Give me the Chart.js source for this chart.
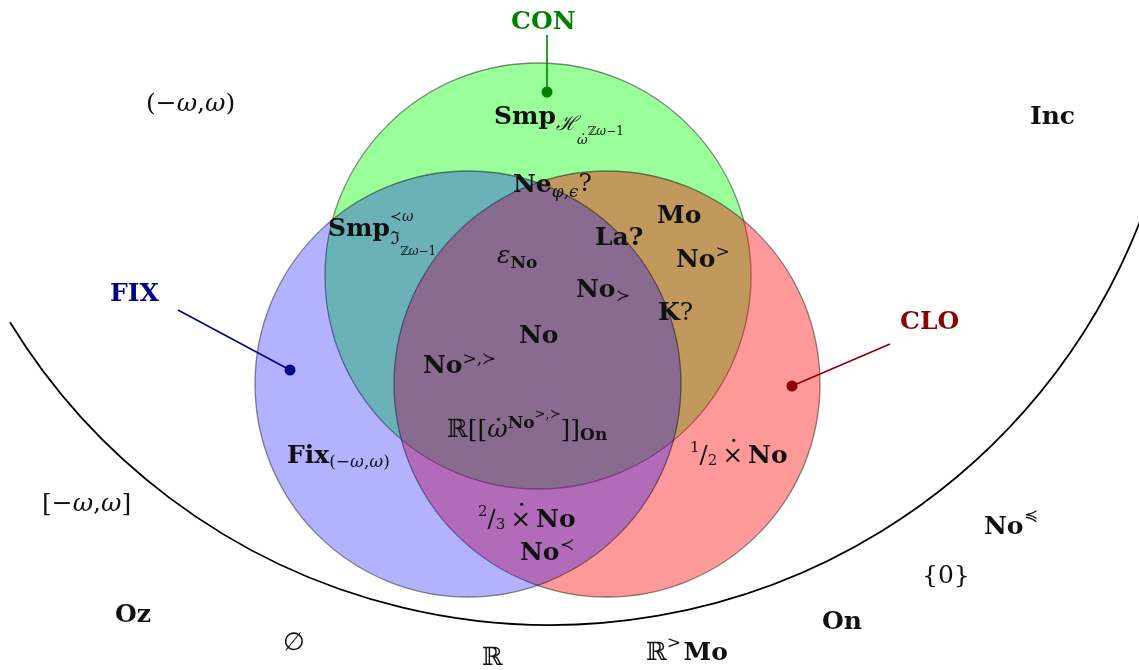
<!DOCTYPE html>
<html><head><meta charset="utf-8">
<script src="https://cdn.jsdelivr.net/npm/chart.js@4.4.1/dist/chart.umd.min.js"></script>
<style>html,body{margin:0;padding:0;background:#fff;overflow:hidden}#wrap{width:1139px;height:670px}</style>
</head><body><div id="wrap"><canvas id="c" width="1139" height="670"></canvas></div>
<script>
// ---- data ----
const setNames = ['CON', 'CLO', 'FIX'];
const circleX = [538, 607, 468];
const circleY = [276, 384, 384];
const circleR = [213, 213, 213];
const circleFill = ['rgba(0,255,0,0.4)', 'rgba(255,0,0,0.4)', 'rgba(0,0,255,0.3)'];

const pointerFromX = [547, 890, 178];
const pointerFromY = [35, 344, 310];
const pointerToX = [547, 792, 290];
const pointerToY = [92, 386, 370];
const pointerColor = ['#008000', '#8b0000', '#00008b'];

const incX = 550, incY = -8, incR = 633, incStartX = 10;

// label contents: [text, font, size, dy, mode]
const labelSegs = [
  [['CON','b',25,0]],
  [['CLO','b',25,0]],
  [['FIX','b',25,0]],
  [['(\u2212','r',25,0],['\u03c9','i',25,0],[',','r',25,0],['\u03c9','i',25,0],[')','r',25,0]],
  [['Inc','b',25,0]],
  [['Smp','b',25,0],['\u210b','i',20,6],['\u03c9','i',13,20],['.','r',13,11,'over'],['\u2124','r',12,11],['\u03c9','i',12,11],['\u22121','r',12,11]],
  [['Ne','b',25,0],['\u03c6,\u03f5','i',17,5],['?','r',25,-1]],
  [['Mo','b',25,0]],
  [['Smp','b',25,0],['\u227a','r',14,-15,'mark'],['\u03c9','i',14,-15],['\u2111','r',18,8,'reset'],['\u2124','r',12,19],['\u03c9','i',12,19],['\u22121','r',12,19]],
  [['La?','b',25,0]],
  [['No','b',25,0],['>','r',17,-10]],
  [['\u03b5','i',25,0],['No','b',17,5]],
  [['No','b',25,0],['\u227b','r',17,4]],
  [['K','b',25,0],['?','r',25,0]],
  [['No','b',25,0]],
  [['No','b',25,0],['>,\u227b','r',17,-9]],
  [['\u211d[[','r',25,0],['\u03c9','i',25,0],['.','r',25,-16,'over'],['No','b',17,-9],['>,\u227b','r',13,-19],[']]','r',25,0],['On','b',17,3]],
  [['Fix','b',25,0],['(\u2212','r',17,4],['\u03c9','i',17,4],[',','r',17,4],['\u03c9','i',17,4],[')','r',17,4]],
  [['1','r',15,-11],['/','r',24,0],['2','r',15,2],['\u2009','r',25,0],['\u00d7','r',25,0],['.','r',25,-21,'over'],['\u2009','r',25,0],['No','b',25,0]],
  [['[\u2212','r',25,0],['\u03c9','i',25,0],[',','r',25,0],['\u03c9','i',25,0],[']','r',25,0]],
  [['2','r',15,-11],['/','r',24,0],['3','r',15,2],['\u2009','r',25,0],['\u00d7','r',25,0],['.','r',25,-21,'over'],['\u2009','r',25,0],['No','b',25,0]],
  [['No','b',25,0],['\u227a','r',17,-10]],
  [['No','b',25,0],['\u227c','r',17,-13]],
  [['{0}','r',25,0]],
  [['Oz','b',25,0]],
  [['On','b',25,0]],
  [['\u2205','r',25,0]],
  [['\u211d','r',25,0]],
  [['\u211d','r',25,0],['>','r',17,-12],['\u200a','r',25,0],['Mo','b',25,0]]
];
const labelX = [511, 900, 110, 146, 1030, 494, 513, 657, 328, 595, 676, 497, 576, 658, 519, 423, 447, 287, 690, 42, 478, 520, 984, 922, 115, 822, 283, 482, 646];
const labelY = [29, 329, 301, 111, 124, 124, 192, 223, 236, 245, 267, 263, 297, 320, 343, 373, 437, 463, 463, 511, 527, 560, 534, 583, 622, 629, 650, 665, 660];
const labelColor = ['#008000', '#8b0000', '#00008b'];

// ---- drawing ----
const FAM = '"DejaVu Serif", "Liberation Serif", serif';
function fontOf(f, size) {
  if (f === 'b') return 'bold ' + size + 'px ' + FAM;
  if (f === 'i') return 'italic ' + size + 'px ' + FAM;
  return size + 'px ' + FAM;
}
function drawLabel(ctx, segs, px, py, color) {
  let x = px, mark = px, lastStart = px, lastW = 0;
  ctx.fillStyle = color;
  ctx.textBaseline = 'alphabetic';
  for (const seg of segs) {
    const [txt, f, size, dy, mode] = seg;
    ctx.font = fontOf(f, size);
    const w = ctx.measureText(txt).width;
    if (mode === 'over') {
      ctx.textAlign = 'center';
      ctx.fillText(txt, lastStart + lastW / 2 + 1, py + dy);
      ctx.textAlign = 'left';
      continue;
    }
    if (mode === 'reset') x = mark;
    if (mode === 'mark') mark = x;
    ctx.textAlign = 'left';
    ctx.fillText(txt, x, py + dy);
    lastStart = x; lastW = w;
    x += w;
  }
}

const incPlugin = {
  id: 'incArc',
  beforeDatasetsDraw(chart) {
    const ctx = chart.ctx, sx = chart.scales.x, sy = chart.scales.y;
    const cx = sx.getPixelForValue(incX), cy = sy.getPixelForValue(incY);
    const r = sx.getPixelForValue(incX + incR) - cx;
    const a0 = Math.acos((sx.getPixelForValue(incStartX) - cx) / r);
    ctx.save();
    ctx.beginPath();
    ctx.arc(cx, cy, r, a0, -0.2, true);
    ctx.strokeStyle = '#000';
    ctx.lineWidth = 1.8;
    ctx.stroke();
    ctx.restore();
  }
};
const textPlugin = {
  id: 'texts',
  afterDatasetsDraw(chart) {
    const ctx = chart.ctx, sx = chart.scales.x, sy = chart.scales.y;
    ctx.save();
    labelSegs.forEach((segs, i) => {
      drawLabel(ctx, segs, sx.getPixelForValue(labelX[i]), sy.getPixelForValue(labelY[i]), labelColor[i] || '#111');
    });
    ctx.restore();
  }
};

const datasets = [];
setNames.forEach((n, i) => {
  datasets.push({
    type: 'line', label: n + ' pointer',
    data: [{x: pointerFromX[i], y: pointerFromY[i]}, {x: pointerToX[i], y: pointerToY[i]}],
    borderColor: pointerColor[i], borderWidth: 1.6,
    pointRadius: [0, 5.5], pointBackgroundColor: pointerColor[i], pointBorderWidth: 0,
    showLine: true, clip: false
  });
});
// bubble radius in data units; the x scale maps 1 unit to 1 px (0..1139 over 1139 px)
datasets.push({
  type: 'bubble', label: 'sets',
  data: setNames.map((n, i) => ({x: circleX[i], y: circleY[i], r: circleR[i]})),
  backgroundColor: circleFill,
  borderColor: 'rgba(0,0,0,0.45)', borderWidth: 1.3,
  clip: false
});

new Chart(document.getElementById('c'), {
  type: 'bubble',
  data: { datasets },
  options: {
    responsive: false, animation: false, events: [],
    layout: { padding: 0, autoPadding: false },
    plugins: { legend: { display: false }, tooltip: { enabled: false } },
    scales: {
      x: { type: 'linear', min: 0, max: 1139, display: false },
      y: { type: 'linear', min: 0, max: 670, reverse: true, display: false }
    }
  },
  plugins: [incPlugin, textPlugin]
});
</script></body></html>
